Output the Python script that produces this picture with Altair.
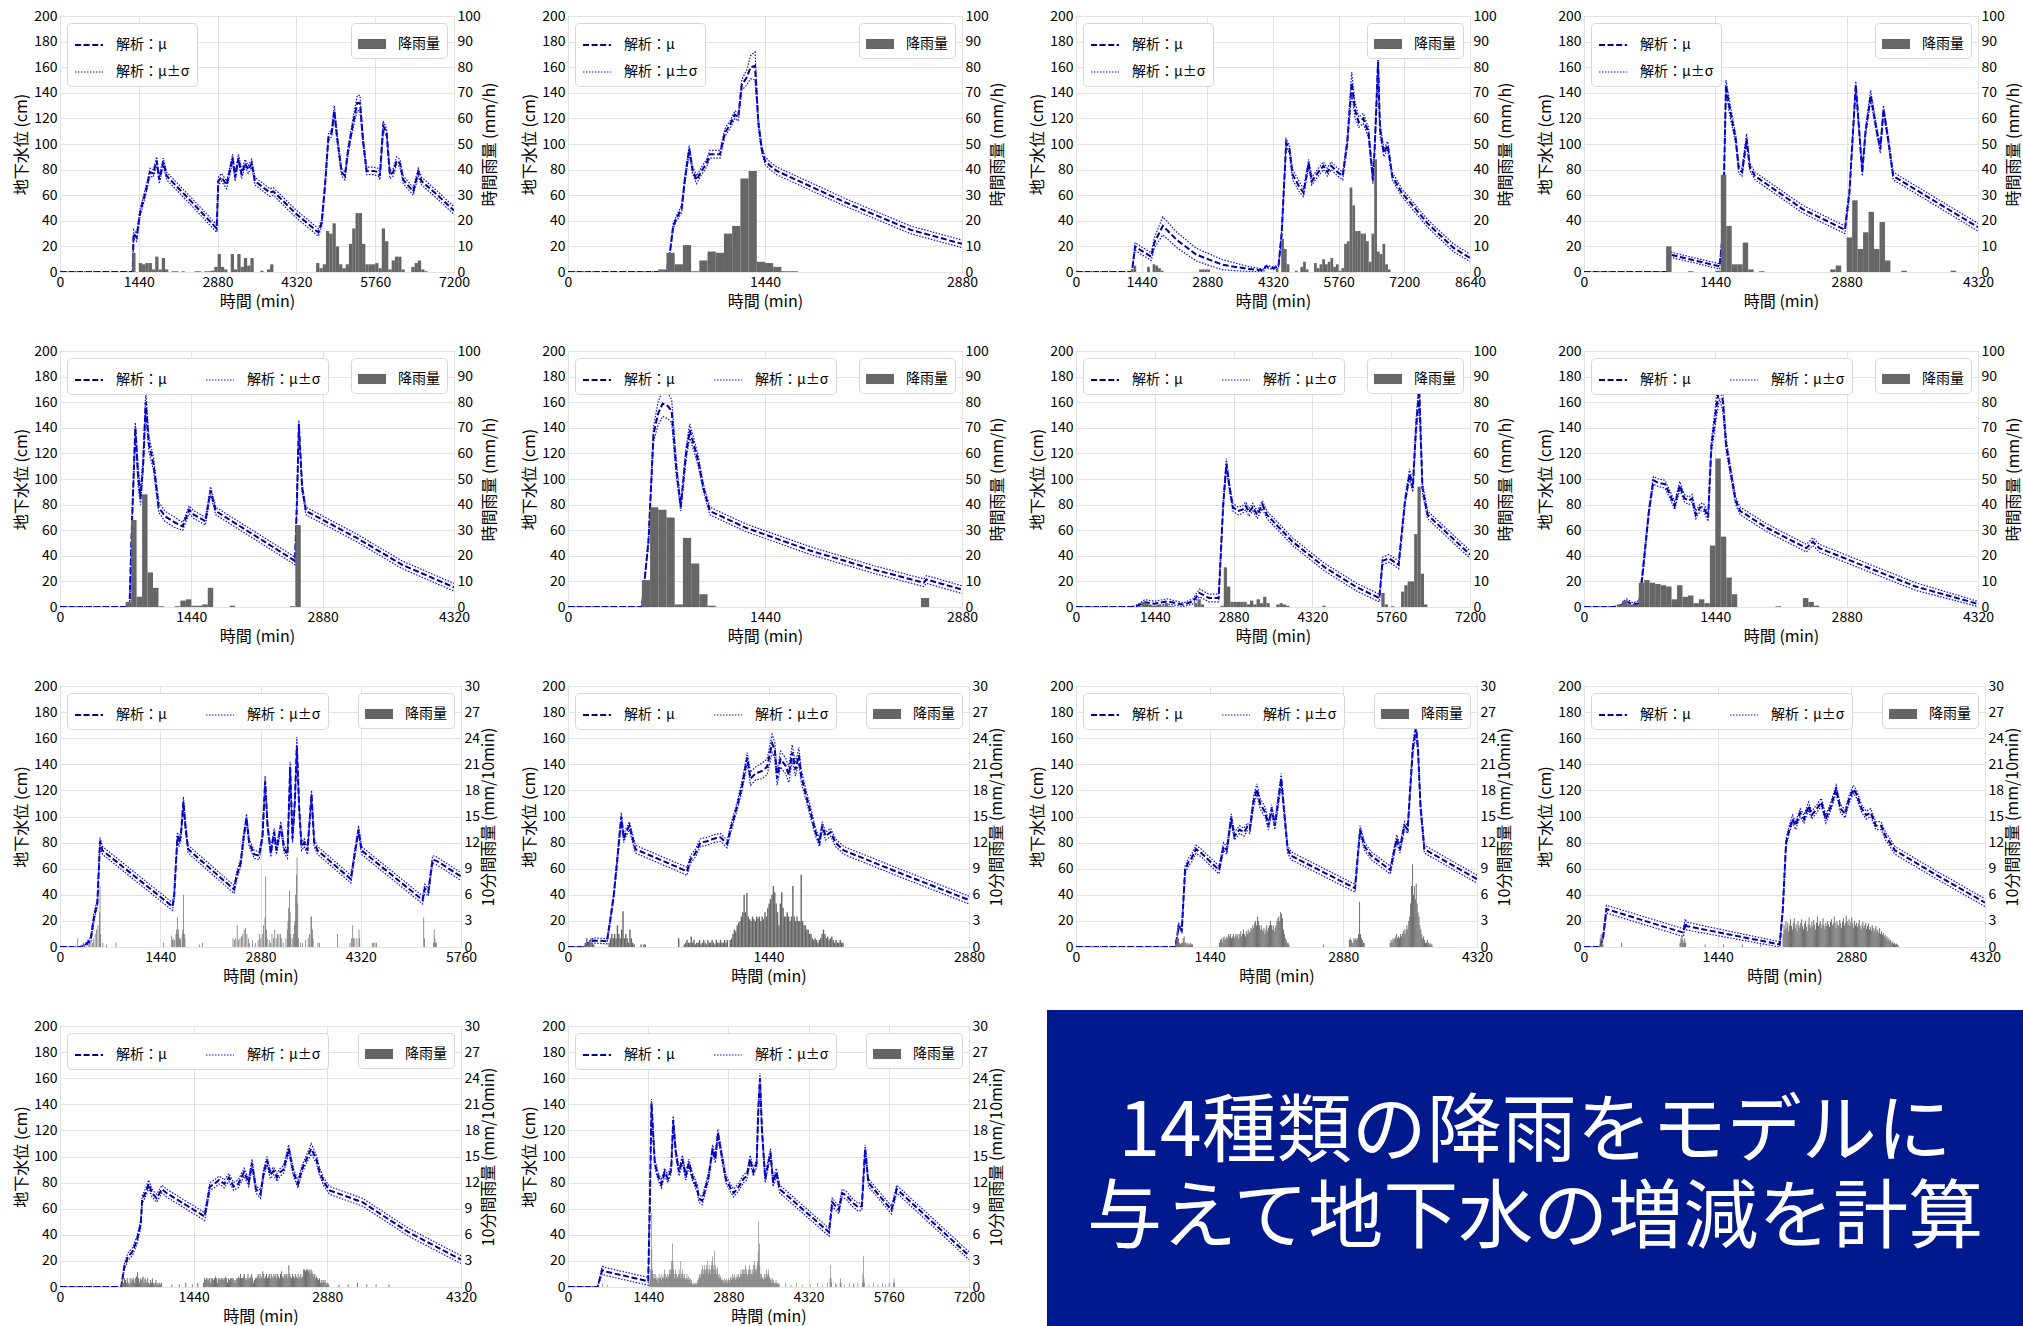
import altair as alt
import pandas as pd

FONT = "Noto Sans CJK JP"
MU_LABEL = "解析：μ"
SD_LABEL = "解析：μ±σ"
RAIN_LABEL = "降雨量"
MU_COLOR = "#00008b"
SD_COLOR = "#0a0aff"
BAR_COLOR = "#666666"
BOX_COLOR = "#001a8e"

X_TITLE = "時間 (min)"
Y_TITLE = "地下水位 (cm)"
HOURLY_TITLE = "時間雨量 (mm/h)"
TENMIN_TITLE = "10分間雨量 (mm/10min)"

BOX_LINES = ["14種類の降雨をモデルに", "与えて地下水の増減を計算"]

# ---- groundwater level: (time [min], mean μ [cm], σ [cm]) ----
P1_LEVEL = [(0, 0, 0), (1328, 0, 0), (1345, 30, 3), (1400, 27, 3), (1462, 46, 3), (1583, 66, 3), (1644, 78, 3),
            (1705, 77, 3), (1766, 87, 3), (1815, 72, 3), (1888, 86, 3), (1950, 75, 3), (2400, 55, 3), (2863, 34, 3),
            (2893, 71, 3), (2953, 74, 3), (3045, 68, 3), (3155, 89, 3), (3200, 74, 3), (3262, 89, 3), (3320, 76, 3),
            (3380, 85, 3), (3440, 80, 3), (3502, 85, 3), (3563, 71, 3), (3837, 62, 3), (3898, 63, 3), (4300, 46, 3),
            (4720, 31, 3), (4781, 38, 3), (4842, 67, 3), (4905, 105, 3), (4966, 109, 3), (5012, 126, 4),
            (5067, 104, 3), (5146, 78, 3), (5207, 75, 3), (5268, 96, 3), (5359, 117, 4), (5432, 132, 6),
            (5481, 132, 6), (5542, 101, 3), (5603, 79, 3), (5725, 79, 3), (5816, 78, 3), (5846, 75, 3),
            (5907, 114, 4), (5968, 109, 3), (6029, 76, 3), (6090, 78, 3), (6151, 87, 3), (6212, 85, 3),
            (6273, 72, 3), (6455, 63, 3), (6547, 78, 3), (6608, 71, 3), (6900, 60, 3), (7200, 48, 3)]
P2_LEVEL = [(0, 0, 0), (720, 0, 0), (745, 15, 1), (769, 36, 2), (793, 42, 2), (830, 49, 3), (854, 72, 3),
            (886, 96, 3), (910, 80, 3), (940, 72, 3), (976, 79, 3), (1013, 85, 3), (1037, 92, 3), (1111, 92, 3),
            (1147, 109, 3), (1184, 115, 3), (1220, 123, 3), (1245, 121, 3), (1270, 146, 4), (1306, 152, 6),
            (1335, 160, 9), (1367, 161, 11), (1391, 117, 4), (1416, 96, 3), (1440, 87, 3), (1477, 83, 3),
            (1525, 79, 3), (1770, 67, 3), (2014, 55, 3), (2258, 44, 3), (2502, 33, 3), (2880, 22, 3)]
P3_LEVEL = [(0, 0, 0), (1226, 0, 0), (1296, 20, 3), (1400, 17.5, 3), (1649, 12, 3), (1720, 23, 4), (1903, 36, 7),
            (2213, 25, 6), (2636, 13.6, 5), (3200, 5.8, 4), (3763, 2.4, 2), (4115, 1.3, 1), (4158, 4.4, 1),
            (4327, 3, 1), (4440, 4.4, 1), (4510, 30, 3), (4609, 101, 3), (4680, 96, 3), (4750, 76, 4),
            (4890, 67, 4), (4989, 62, 3), (5102, 85, 3), (5172, 71, 3), (5313, 78, 3), (5426, 83, 3),
            (5511, 78, 3), (5595, 83, 3), (5736, 78, 3), (5849, 75, 3), (5948, 101, 3), (6046, 148, 8),
            (6116, 127, 6), (6201, 117, 4), (6300, 120, 4), (6413, 109, 4), (6511, 72, 3), (6553, 99, 3),
            (6624, 164, 8), (6666, 112, 5), (6751, 93, 3), (6835, 99, 3), (6934, 75, 3), (7145, 62, 3),
            (7710, 38, 3), (8273, 19, 3), (8640, 11, 3)]
P4_LEVEL = [(0, 0, 0), (923, 0, 0), (944, 13.6, 2), (1487, 4.4, 2), (1522, 30, 3), (1557, 146, 4), (1592, 130, 5),
            (1663, 104, 4), (1698, 80, 3), (1733, 78, 3), (1783, 104, 4), (1818, 82, 3), (1875, 75, 3),
            (2400, 49, 3), (2861, 33, 3), (2910, 62, 3), (2980, 146, 3), (3051, 78, 3), (3086, 109, 3),
            (3143, 138, 4), (3213, 109, 3), (3249, 96, 3), (3284, 127, 3), (3334, 104, 3), (3390, 75, 3),
            (3900, 53, 3), (4320, 35, 3)]
P5_LEVEL = [(0, 0, 0), (762, 0, 0), (790, 67, 3), (826, 140, 4), (855, 104, 8), (883, 85, 5), (912, 112, 6),
            (940, 160, 9), (975, 127, 6), (1025, 112, 5), (1082, 78, 4), (1150, 71, 4), (1260, 66, 4),
            (1345, 63, 3), (1416, 76, 3), (1470, 72, 3), (1594, 67, 3), (1651, 91, 3), (1708, 75, 3),
            (2577, 36, 3), (2598, 83, 3), (2619, 143, 3), (2655, 93, 3), (2697, 75, 3), (3253, 54, 3),
            (3751, 33, 3), (4320, 15.4, 3)]
P6_LEVEL = [(0, 0, 0), (540, 0, 0), (588, 51, 3), (625, 135, 6), (658, 151, 9), (692, 159, 10), (730, 157, 10),
            (758, 153, 9), (791, 109, 6), (824, 78, 3), (862, 119, 5), (890, 138, 5), (919, 127, 5),
            (952, 114, 4), (990, 93, 3), (1037, 75, 3), (1298, 62, 3), (1772, 44, 3), (2245, 29, 3),
            (2600, 19, 3), (2620, 21.5, 3), (2880, 13.6, 3)]
P7_LEVEL = [(0, 0, 0), (1022, 0, 0), (1140, 1.3, 1), (1257, 3.7, 2), (1433, 2.5, 2), (1668, 4.4, 2),
            (1962, 1.8, 1.5), (2138, 4.4, 2), (2255, 11, 3), (2431, 7, 3), (2607, 7, 3), (2690, 80, 3),
            (2748, 112, 4), (2807, 93, 3), (2866, 78, 3), (2960, 75, 3), (3042, 76, 3), (3101, 79, 3),
            (3160, 74, 3), (3230, 78, 3), (3312, 72, 3), (3406, 80, 3), (3488, 72, 3), (3958, 51, 3),
            (4545, 31, 3), (5133, 15.4, 3), (5544, 7, 3), (5602, 36, 3), (5720, 38, 3), (5896, 33, 3),
            (6013, 83, 3), (6096, 104, 4), (6155, 93, 3), (6213, 140, 6), (6272, 169, 10), (6331, 93, 4),
            (6425, 72, 3), (7200, 41, 3)]
P8_LEVEL = [(0, 0, 0), (324, 0, 0), (400, 1, 1), (465, 4.4, 2), (535, 1.8, 1.5), (606, 3, 2), (641, 25, 3),
            (712, 75, 3), (761, 99, 3), (818, 97, 3), (888, 96, 3), (959, 85, 3), (994, 79, 3), (1050, 95, 3),
            (1100, 85, 3), (1150, 83, 3), (1185, 85, 3), (1226, 72, 3), (1276, 78, 3), (1310, 78, 3),
            (1361, 70, 3), (1396, 125, 5), (1452, 156, 8), (1487, 173, 10), (1522, 161, 8), (1558, 127, 5),
            (1607, 106, 4), (1663, 83, 3), (1713, 75, 3), (2000, 62, 3), (2438, 46, 3), (2509, 51, 3),
            (2580, 46, 3), (2931, 36, 3), (3636, 16, 3), (4320, 2.4, 2)]
P9_LEVEL = [(0, 0, 0), (297, 0, 0), (370, 2, 1), (441, 5.6, 2), (489, 23, 3), (537, 34, 3), (575, 81, 3),
            (610, 74, 3), (1615, 31, 3), (1640, 39, 3), (1687, 85, 3), (1710, 80, 3), (1735, 85, 3),
            (1773, 111, 4), (1806, 90, 3), (1840, 75, 3), (2501, 44, 3), (2535, 54, 3), (2597, 65, 3),
            (2635, 83, 3), (2679, 99, 3), (2717, 80, 3), (2789, 71, 3), (2861, 70, 3), (2909, 85, 3),
            (2947, 127, 4), (2981, 93, 3), (3028, 72, 3), (3076, 88, 3), (3110, 74, 3), (3172, 93, 3),
            (3220, 75, 3), (3268, 71, 3), (3306, 138, 4), (3340, 83, 3), (3373, 111, 3), (3402, 154, 7),
            (3436, 106, 3), (3469, 77, 3), (3507, 80, 3), (3555, 74, 3), (3613, 117, 3), (3651, 80, 3),
            (3699, 74, 3), (4178, 52, 3), (4235, 72, 3), (4288, 90, 3), (4331, 74, 3), (5208, 36, 3),
            (5240, 45, 3), (5290, 42, 3), (5352, 67, 3), (5410, 66, 3), (5760, 54, 3)]
P10_LEVEL = [(0, 0, 0), (113, 0, 0), (148, 3, 1), (184, 5, 2), (280, 4.4, 2), (304, 21, 2), (328, 39, 2),
             (352, 65, 3), (383, 100, 3), (400, 83, 3), (417, 88, 3), (441, 93, 3), (460, 85, 3), (484, 75, 3),
             (855, 58, 3), (879, 67, 3), (915, 72, 3), (951, 80, 3), (999, 81, 3), (1047, 83, 3),
             (1095, 84, 3), (1143, 79, 3), (1167, 90, 3), (1215, 108, 3), (1251, 124, 4), (1287, 145, 4),
             (1311, 129, 5), (1347, 133, 5), (1394, 135, 6), (1430, 138, 6), (1466, 156, 7), (1485, 151, 6),
             (1502, 129, 5), (1526, 144, 6), (1562, 139, 6), (1586, 132, 6), (1610, 149, 6), (1634, 136, 5),
             (1658, 147, 6), (1675, 131, 5), (1706, 118, 4), (1742, 103, 4), (1778, 88, 3), (1806, 80, 3),
             (1826, 93, 3), (1850, 85, 3), (1886, 88, 3), (1921, 80, 3), (1981, 74, 3), (2400, 56, 3),
             (2880, 36, 3)]
P11_LEVEL = [(0, 0, 0), (1071, 0, 0), (1106, 16, 2), (1140, 13, 2), (1175, 59, 3), (1210, 65, 3),
             (1245, 68, 3), (1292, 75, 3), (1350, 72, 3), (1541, 59, 3), (1589, 77, 3), (1624, 74, 3),
             (1672, 99, 3), (1706, 85, 3), (1762, 90, 3), (1810, 88, 3), (1845, 92, 3), (1872, 90, 3),
             (1914, 112, 4), (1949, 121, 4), (1983, 110, 4), (2039, 103, 4), (2073, 93, 3), (2108, 106, 3),
             (2142, 93, 3), (2177, 111, 4), (2211, 129, 4), (2246, 101, 3), (2280, 75, 3), (2315, 70, 3),
             (3006, 45, 3), (3061, 90, 3), (3110, 77, 3), (3179, 70, 3), (3386, 59, 3), (3455, 83, 3),
             (3490, 75, 3), (3538, 93, 3), (3573, 90, 3), (3628, 152, 4), (3663, 168, 5), (3684, 152, 4),
             (3711, 108, 4), (3753, 75, 3), (4320, 52, 3)]
P12_LEVEL = [(0, 0, 0), (173, 0, 0), (207, 8, 2), (242, 29, 3), (1071, 11, 3), (1090, 18.5, 3), (1106, 16, 3),
             (2108, 2, 2), (2142, 29, 3), (2177, 80, 3), (2211, 90, 3), (2246, 98, 3), (2280, 93, 3),
             (2329, 103, 3), (2370, 98, 3), (2419, 108, 3), (2453, 101, 3), (2508, 106, 3), (2557, 111, 3),
             (2605, 98, 3), (2660, 108, 3), (2716, 121, 3), (2764, 106, 3), (2813, 102, 3), (2854, 113, 3),
             (2903, 121, 3), (2937, 117, 3), (2992, 106, 3), (3040, 101, 3), (3089, 103, 3), (3144, 93, 3),
             (3200, 93, 3), (3248, 85, 3), (3296, 80, 3), (3351, 74, 3), (3800, 55, 3), (4320, 34, 3)]
P13_LEVEL = [(0, 0, 0), (659, 0, 0), (694, 16, 2), (730, 23, 3), (779, 27, 3), (830, 36, 3), (871, 49, 3),
             (885, 67, 3), (920, 72, 3), (956, 79, 3), (991, 72, 3), (1041, 68, 3), (1098, 75, 3),
             (1148, 72, 3), (1558, 54, 3), (1615, 77, 3), (1664, 79, 3), (1714, 82, 3), (1770, 79, 3),
             (1820, 84, 3), (1870, 77, 3), (1920, 79, 3), (1983, 88, 3), (2033, 80, 3), (2068, 95, 3),
             (2111, 75, 3), (2160, 71, 3), (2196, 88, 3), (2231, 97, 3), (2266, 86, 3), (2302, 89, 3),
             (2337, 84, 3), (2373, 88, 3), (2408, 90, 3), (2464, 106, 3), (2514, 88, 3), (2564, 79, 3),
             (2606, 90, 3), (2656, 98, 3), (2706, 106, 4), (2762, 98, 3), (2797, 88, 3), (2847, 80, 3),
             (2904, 74, 3), (3258, 65, 3), (3754, 42, 3), (4320, 21, 3)]
P14_LEVEL = [(0, 0, 0), (531, 0, 0), (614, 13, 3), (660, 12, 3), (1440, 4.4, 3), (1470, 65, 3), (1499, 141, 3),
             (1558, 95, 3), (1617, 85, 3), (1676, 79, 3), (1735, 88, 3), (1794, 83, 3), (1853, 90, 3),
             (1889, 128, 3), (1936, 103, 3), (1995, 88, 3), (2054, 98, 3), (2113, 85, 3), (2172, 95, 3),
             (2231, 85, 3), (2325, 75, 3), (2349, 68, 3), (2408, 66, 3), (2526, 85, 3), (2597, 106, 3),
             (2644, 98, 3), (2692, 118, 3), (2751, 103, 3), (2833, 83, 3), (2916, 76, 3), (2975, 72, 3),
             (3069, 77, 3), (3152, 83, 3), (3211, 85, 3), (3270, 98, 3), (3329, 88, 3), (3388, 95, 3),
             (3417, 136, 4), (3447, 160, 4), (3482, 121, 4), (3541, 83, 3), (3588, 93, 3), (3636, 103, 3),
             (3683, 80, 3), (3742, 88, 3), (3801, 75, 3), (4686, 42, 3), (4745, 65, 3), (4863, 59, 3),
             (4922, 72, 3), (5004, 70, 3), (5099, 65, 3), (5217, 61, 3), (5276, 62, 3), (5335, 106, 3),
             (5394, 80, 3), (5807, 59, 3), (5902, 75, 3), (7200, 24, 3)]

# ---- hourly rainfall [mm/h]: first hour index, then one value per hour ----
P1_RAIN_H0 = 22
P1_RAIN = [7.5, 0, 3.5, 3, 3.5, 3.5, 1, 6, 1, 5.5, 1, 0, 0.3, 0.3, 0, 0.3, 0, 0, 0, 0.3, 0.3, 0, 0.3, 0.3,
           0.5, 2, 7, 2, 1, 0, 7, 1, 7, 2, 5.5, 2.5, 5.5, 0, 0, 0.5, 0, 1, 3, 0, 0, 0, 0, 0, 0, 0, 0, 0, 0, 0,
           0, 0, 3.5, 1.5, 3, 16, 15, 19, 10, 3, 1.5, 3, 11, 17, 23, 23, 11, 3, 3, 3, 3.5, 1.5, 17, 12, 1, 4.5,
           6, 6, 1, 0, 0, 2, 3.5, 4.5, 1, 0.3]
P2_RAIN_H0 = 11
P2_RAIN = [1, 7.5, 3, 10.5, 0.3, 4.5, 8, 7.5, 15, 18, 36.5, 39.5, 4, 3.5, 2, 0.3, 0.3]
P3_RAIN_H0 = 20
P3_RAIN = [1, 2.5, 0, 0, 0, 0, 2, 0, 3, 2.5, 1.5, 0.5, 0, 0, 0, 0, 0, 0, 0, 0, 0, 0, 0, 0, 0, 1, 1, 1, 1,
           0, 0, 0, 0, 0, 0, 0, 0, 0, 0, 0, 0, 0, 0, 0, 0, 0, 0, 0, 0, 0, 0, 0, 0, 1.5, 0, 13, 9, 3, 0, 0,
           0.5, 0, 2, 4, 1, 0, 0, 3.5, 1.5, 3, 5, 3, 4, 5.5, 2, 3, 0.5, 1.5, 11, 12, 33, 26, 16, 16, 15, 15,
           12, 4, 15, 44, 8, 7, 11, 3, 1]
P4_RAIN_H0 = 15
P4_RAIN = [10, 0, 0, 0, 0.3, 0, 0, 0, 0, 0.5, 38, 18, 3, 3, 11.5, 1, 0, 0.3, 0, 0, 0, 0, 0, 0, 0, 0, 0, 0,
           0, 0, 1, 2.5, 0, 13.5, 28, 9, 15.5, 23.5, 9, 19.5, 4.5, 0, 0, 0.5, 0, 0, 0, 0, 0, 0, 0, 0, 0.5]
P5_RAIN_H0 = 12
P5_RAIN = [2, 34, 4, 44, 13.5, 7.5, 0.3, 0, 0, 0.3, 2.5, 3, 0.5, 0.5, 1, 7.5, 0, 0, 0, 0.5, 0, 0, 0, 0, 0, 0,
           0, 0, 0, 0, 0.3, 32]
P6_RAIN_H0 = 9
P6_RAIN = [10.5, 39, 38, 35, 1, 27, 17, 5, 0.5, 0, 0, 0, 0, 0, 0, 0, 0, 0, 0, 0, 0, 0, 0, 0, 0, 0, 0, 0, 0,
           0, 0, 0, 0, 0, 3.5]
P7_RAIN_H0 = 19
P7_RAIN = [0.3, 2, 1.5, 1, 0.5, 0.5, 1, 0.5, 1.5, 0.5, 0.3, 0, 0, 0, 0, 0, 0, 1.5, 3, 1, 0, 0, 0, 0, 0,
           0.5, 15.5, 8, 2, 2, 2, 2, 2, 1, 2.5, 1, 3, 1.5, 4, 1.5, 0, 0, 1, 1.5, 1, 0.5, 0, 0, 0, 0, 0, 0, 0,
           0, 0, 0, 0.5, 0, 0, 0, 0, 0, 0, 0, 0, 0, 0, 0, 0, 0, 0, 0, 0, 0, 5.5, 1, 0, 0.3, 0, 0, 6, 8.5, 10,
           10, 28.5, 47, 13, 1]
P8_RAIN_H0 = 6
P8_RAIN = [1, 2.5, 1, 1, 9.5, 10.5, 9.5, 9, 8.5, 8, 3, 8.5, 4, 4.5, 1.5, 3, 1.5, 24, 58, 27.5, 11.5, 5, 0,
           0, 0, 0, 0, 0, 0, 0.3, 0, 0, 0, 0, 3.5, 2, 0.5]

# ---- 10-minute rainfall [mm/10min]: (start time [min], one value per 10 min) ----
P9_RAIN = [(250, [1, 0, 0, 0, 0, 0.3, 0, 0, 0.5]),
           (400, [0.5, 0, 0.5, 0, 0.8, 0, 0.5, 0, 1, 0, 1.5, 0, 2, 0, 2.5, 0, 4, 7, 1.5, 0, 0, 0.5]),
           (660, [0.3]), (800, [0.5]), (1480, [0.5]),
           (1600, [1.3, 0.8, 1, 0, 0.8, 0, 1.5, 2, 3.4, 1.5, 2, 1, 0.8, 1, 0, 1.5, 2, 6, 1.5, 1]),
           (2000, [0.3]), (2040, [0.5]),
           (2480, [1, 0, 0.8, 0, 1, 0, 2.5, 0, 0.8, 0, 1, 0, 1.2, 0, 1.5, 0, 2, 0, 2.2, 0, 1.5, 0, 1, 0, 0.5]),
           (2760, [0.8, 0, 0, 0, 0.5, 0, 0, 0, 0.8, 0, 1.5, 0, 1, 0, 1.5, 0, 2.5, 0, 3.4, 8.1, 2, 1, 0, 0, 0.8,
                   0, 0.5, 0, 1.5, 0, 1, 0, 2, 0, 1, 0, 1.5, 0, 1.5, 0, 1.5, 0, 1, 0, 0.5]),
           (3240, [1, 0, 2, 3, 4.5, 6.5, 4, 1.5, 0, 1, 0, 1.5, 2.5, 3, 6, 8.3, 10.3, 5, 1, 0, 0, 0.5, 0, 0,
                   0.5, 0, 0, 0, 0.8, 0, 0, 0, 1, 0, 1.5, 0, 3.5, 3.5, 2, 1]),
           (3700, [0.5, 0, 0.5]), (3980, [1.5]),
           (4160, [0.5, 0, 1, 0, 2.5, 1, 0, 1, 0, 0, 1, 0, 0, 2, 1]),
           (4480, [0.5, 0, 0.5, 0, 0.5, 0, 0.5]),
           (5220, [3.4, 1]), (5360, [0.5, 2, 1, 0.5, 0.5])]
P10_RAIN = [(120, [0.5, 1, 0.5, 0.8, 1, 0.5, 0.3]),
            (290, [0.5, 1, 1.5, 1, 1.5, 1, 2.5, 1.5, 1, 2, 4.1, 1, 1.5, 1, 0.5, 2, 1, 0.5, 0.3]),
            (520, [0.3, 0, 0.3, 0.3]), (790, [1]),
            (830, [0.3, 0.5, 0.8, 0.5, 0.5, 1.2, 0.5, 0.8, 0.3, 0.5, 0.5, 0.8, 0.3, 0.5, 0.8, 0.5, 0.3, 0.8,
                   0.5, 0.5, 0.8, 0.5, 0.3, 0.8, 0.5, 0.5, 0.8, 0.5, 0.5, 0.8, 0.5, 0.8]),
            (1160, [0.8, 1, 1.5, 2, 1.8, 2.5, 2.8, 3, 3.5, 4, 6, 4, 6.2, 3.5, 3.2, 3, 3.5, 3.2, 3, 3.5, 3.3,
                    3.5, 3, 3.5, 3.2, 4, 3.5, 4.5, 5, 5.5, 6, 7, 6.3, 5, 4, 2.5, 5, 6.3, 4.5, 3.5, 3.5, 4, 3.5,
                    3, 3.5, 7, 3.5, 3, 3.5, 3, 3, 8.3, 3, 2.5, 2.5, 2, 2, 1.5, 1.5, 1, 0.8, 1, 0.8, 0.5, 0.8,
                    1, 1.5, 2, 1.5, 1, 1.2, 0.8, 1, 1.2, 0.8, 0.5, 0.8, 0.5, 0.5, 0.8, 0.5, 0.5])]
P11_RAIN = [(1070, [0.5, 1, 2.5, 1, 0.5, 0.3, 0.5, 0.5, 1, 1.2, 0.5, 0.5, 0.3, 0.5, 0.3, 0.3, 0.5, 0.3, 0.3]),
            (1540, [0.5, 0.8, 1, 0.5, 1, 1.2, 0.8, 1, 1.2, 1, 1.5, 1.2, 1.5, 1, 1.2, 1.5, 1, 1.3, 1.5, 1.2,
                    1.5, 1, 1.5, 1.8, 1.2, 1.5, 2, 1.5, 1.2, 1.8, 1.5, 2, 1.6, 1.8, 2.2, 2, 2.5, 2.2, 2.8, 3,
                    2.5, 3.5, 3, 2.5, 2, 2.5, 2, 1.8, 2.2, 1.5, 2, 2.5, 1.8, 2.2, 2.5, 3, 2.5, 2, 2.5, 1.8,
                    2.2, 2.5, 3, 3.3, 3.5, 3, 4, 3.8, 3.3, 2, 1.5, 1, 0.8, 0.5, 0.5, 0.3]),
            (2660, [0.3]),
            (2940, [0.8, 1, 0.8, 0.5, 0.5, 1, 0.8, 1, 0.8, 1, 1.5, 5.2, 1.5, 1, 0.8, 0.5, 0.5]),
            (3380, [0.5, 0.8, 0.5, 1, 0.8, 1, 1.2, 1.5, 1, 1.2, 1, 1.5, 1.2, 1.5, 1.8, 2, 1.5, 2, 2.5, 2, 3,
                    3.5, 5, 7, 9.5, 6, 7, 5.5, 7.3, 5, 4, 3.5, 2.5, 2, 1.5, 1, 1.2, 0.8, 0.5, 0.5, 0.8, 0.5,
                    0.3, 0.5, 0.3, 0.3])]
P12_RAIN = [(170, [1, 1.5, 0.5, 0.3]), (400, [0.5]),
            (1030, [0.5, 1, 1.3, 0.8, 0.5, 1, 0.5]),
            (1300, [0.3]), (1500, [0.3]), (1700, [0.3]), (1900, [0.3]),
            (2140, [1.5, 2.5, 2, 3, 2.2, 2.8, 1.8, 2.5, 3.2, 2.4, 2, 2.8, 3.3, 2.2, 2.6, 1.8, 3, 2.5, 2.2, 2.8,
                    3.2, 2.4, 2, 2.7, 3, 2.3, 1.8, 2.6, 3.4, 2.5, 2.2, 2.9, 2.4, 3.1, 2.6, 2, 2.8, 3.5, 2.4,
                    2.7, 3, 2.2, 2.6, 3.3, 2.5, 2.1, 2.8, 2.4, 3, 2.6, 2.3, 2.9, 3.2, 2.5, 2.7, 3.5, 2.8, 2.2,
                    3, 2.6, 2.4, 3.1, 2.7, 2.2, 2.9, 3.3, 2.5, 2.8, 3.6, 3, 2.6, 3.2, 2.4, 2.9, 3.4, 2.7, 2.2,
                    3, 2.5, 2.8, 2.3, 2.7, 3.1, 2.4, 2, 2.6, 2.9, 2.2, 2.5, 2.8, 2.1, 2.4, 2.7, 2, 2.3, 1.9,
                    2.5, 2.2, 1.8, 2.1, 2.4, 1.8, 2, 1.6, 2.2, 1.5, 1.8, 1.4, 1.6, 1.2, 1.4, 1, 1.2, 0.8, 1,
                    0.7, 0.8, 0.5, 0.6, 0.4, 0.5, 0.3, 0.4, 0.3, 0.2])]
P13_RAIN = [(660, [0.5, 1, 0.5, 1, 0.8, 0.5, 1, 0.5, 0.3, 1, 0.5, 1, 0.8, 1, 0.5, 1, 1.2, 1.7, 1, 0.5, 1, 0.8,
                   1, 1.2, 0.5, 1, 0.8, 0.5, 1, 0.5, 0.3, 0.8, 0.5, 1, 0.5, 0.3, 0.5, 0.8, 0.3, 0.5, 0.3, 0.5,
                   0.3, 0.5]),
            (1200, [0.3]), (1280, [0.3]), (1350, [0.5]), (1420, [0.3]), (1480, [0.5]),
            (1540, [0.5, 1, 0.8, 1, 1, 0.8, 1, 1, 0.5, 1, 1, 0.8, 1, 1.2, 1, 0.5, 1, 1, 0.8, 1,
                    1, 1, 0.8, 1, 1.2, 1, 0.5, 1, 0.8, 1, 1, 1, 1, 0.8, 0.5, 0.8, 1, 1, 1.2, 1,
                    1.5, 1, 1, 1.2, 1.5, 1, 0.8, 1, 1.5, 1, 1, 1.2, 1.5, 1, 0.5, 0.8, 1, 1, 1.2, 1.5,
                    1, 1.5, 1.2, 1, 1.8, 1.5, 1, 1.2, 1.5, 1, 1.2, 1.5, 1, 1.5, 1.2, 1, 1.5, 1.2, 1.5, 1,
                    1.5, 1.2, 1, 1.5, 1.8, 1.2, 1, 1.5, 1.2, 1.5, 1.5, 1, 2.5, 1.5, 1.2, 1, 1.5, 1.2, 1, 1.5,
                    1.2, 1, 1.5, 1, 1.2, 1.5, 1, 1.2, 2, 2, 1.8, 2, 2, 1.8, 2, 1.5, 2, 1.8, 1.5, 1.2,
                    1.5, 1, 1.2, 1, 0.8, 1, 0.5, 0.8, 0.5, 0.8, 0.5, 0.8, 0.5, 0.3, 0.5, 0.3]),
            (3000, [0.3]), (3100, [0.3]), (3200, [0.5]), (3300, [0.3]), (3400, [0.3]), (3540, [0.3])]
P14_RAIN = [(620, [0.5]), (700, [0.3]),
            (1460, [0.5, 1, 2, 8.5, 4.3, 2, 1.5, 1, 1.5, 1, 1.5, 1, 0.8, 1.2, 1, 0.5, 1, 1.5, 1, 1.2,
                    1, 0.8, 1.5, 1, 1.2, 1, 1.5, 2, 1.5, 1, 1.2, 1, 1.5, 1, 1.2, 1.5, 2, 1.5, 2, 3,
                    2, 5, 3, 2, 1.5, 1, 1.5, 2, 1.5, 1, 1.2, 1, 1.5, 2, 1.5, 1, 3, 1.5, 1, 2,
                    1.5, 1, 1.2, 1.5, 1, 0.8, 1, 1.5, 1, 0.8, 1.2, 1, 0.8, 1, 0.5, 0.8, 0.5, 0.3, 0.5, 0.3,
                    0.3, 0.5, 0.3, 0.5, 0.3, 0.5, 0.8, 0.5, 1, 1.5, 1.2, 1, 1.5, 2, 1.5, 2.5, 2, 1.5, 2, 2.5,
                    2, 1.5, 2.5, 2, 3, 2, 1.5, 2.5, 2, 1.5, 2, 2.5, 3, 3.5, 2.5, 2, 1.5, 4.1, 2.5, 2,
                    1.5, 2, 2.3, 1.5, 1.2, 1, 1.5, 1.2, 1, 0.8, 1, 0.8, 0.5, 0.8, 1, 0.5, 0.8, 0.5, 1, 0.8,
                    0.5, 0.8, 1, 0.5, 0.8, 1, 1.2, 0.8, 1, 1.5, 1, 1.2, 1.5, 1, 0.8, 1.2, 1, 1.5, 1.2, 1,
                    1.5, 1.2, 1, 1.5, 2, 1.5, 1.2, 2, 1.5, 2, 1.5, 2, 2.5, 1.5, 2, 1.5, 1.2, 1.5, 2, 2.5,
                    2, 1.5, 2, 1.5, 1.2, 2, 1.5, 2.5, 3, 2.5, 2, 1.5, 2, 2.5, 3, 4, 7.5, 5, 2.5, 1.5,
                    1, 1.5, 1.2, 1, 0.8, 1, 1.5, 1.2, 1, 1.5, 2, 1.5, 1.2, 2, 1.5, 1.2, 1, 0.8, 1, 0.5,
                    0.8, 1, 0.5, 0.8, 0.5, 0.3, 0.5, 0.8, 0.5, 0.3, 0.5, 0.3, 0.5, 0.3]),
            (3900, [0.5]), (4000, [0.3]), (4100, [0.5]), (4200, [0.3]), (4350, [0.3]), (4480, [0.5]),
            (4560, [0.3]), (4650, [0.5]), (4700, [1, 2.5, 1, 0.5]), (4800, [0.5, 0.3]),
            (4880, [0.5, 1, 0.5]), (4960, [0.3]), (5050, [0.5]), (5120, [0.3, 0.5]), (5200, [0.5]),
            (5280, [0.5, 1.5, 3.6, 1, 0.5]), (5400, [0.3]), (5480, [0.5]), (5560, [0.3]), (5640, [0.5]),
            (5700, [0.3]), (5760, [0.5]), (5840, [0.5, 1, 0.5])]


def level_frame(level):
    rows = []
    for t, mu, sd in level:
        rows.append({"t": t, "v": mu, "series": MU_LABEL, "part": "mu"})
        rows.append({"t": t, "v": mu + sd, "series": SD_LABEL, "part": "upper"})
        rows.append({"t": t, "v": mu - sd, "series": SD_LABEL, "part": "lower"})
    return pd.DataFrame(rows)


def hourly_frame(h0, values):
    rows = [{"t0": (h0 + i) * 60, "t1": (h0 + i + 1) * 60, "r0": 0, "r": v, "kind": RAIN_LABEL}
            for i, v in enumerate(values) if v > 0]
    return pd.DataFrame(rows)


def tenmin_frame(segments):
    rows = []
    for start, values in segments:
        for i, v in enumerate(values):
            if v > 0:
                rows.append({"t0": start + 10 * i, "t1": start + 10 * (i + 1), "r0": 0, "r": v,
                             "kind": RAIN_LABEL})
    return pd.DataFrame(rows)


def panel(level, rain, xmax, hourly, direction, width, height):
    if hourly:
        rmax, rstep, rtitle = 100, 10, HOURLY_TITLE
    else:
        rmax, rstep, rtitle = 30, 3, TENMIN_TITLE

    x_scale = alt.Scale(domain=[0, xmax], nice=False, zero=True)
    x_axis = alt.Axis(values=list(range(0, xmax + 1, 1440)), title=X_TITLE, grid=True, format="d")

    line_legend = alt.Legend(
        orient="top-left", direction=direction, title=None, symbolType="stroke", symbolSize=784,
        labelFont=FONT, labelFontSize=14, labelColor="#000000", labelOffset=12,
        fillColor="#ffffff", strokeColor="#d6d6d6", cornerRadius=4, padding=7, offset=7,
        rowPadding=5, columnPadding=36,
    )
    bar_legend = alt.Legend(
        orient="top-right", title=None, symbolType="M-1,-0.36H1V0.36H-1Z", symbolSize=784,
        symbolStrokeWidth=0, labelFont=FONT, labelFontSize=14, labelColor="#000000", labelOffset=12,
        fillColor="#ffffff", strokeColor="#d6d6d6", cornerRadius=4, padding=7, offset=7,
    )

    series = [MU_LABEL, SD_LABEL]
    lines = alt.Chart(level_frame(level)).mark_line(clip=True).encode(
        x=alt.X("t:Q", scale=x_scale, axis=x_axis),
        y=alt.Y("v:Q", scale=alt.Scale(domain=[0, 200], nice=False),
                axis=alt.Axis(values=list(range(0, 201, 20)), title=Y_TITLE, grid=True, orient="left")),
        stroke=alt.Stroke("series:N", scale=alt.Scale(domain=series, range=[MU_COLOR, SD_COLOR]),
                          legend=line_legend),
        strokeDash=alt.StrokeDash("series:N", scale=alt.Scale(domain=series, range=[[6, 2.6], [1.5, 1.5]]),
                                  legend=line_legend),
        strokeWidth=alt.StrokeWidth("series:N", scale=alt.Scale(domain=series, range=[2, 1.2]),
                                    legend=line_legend),
        detail="part:N",
    )
    bars = alt.Chart(rain).mark_rect(clip=True).encode(
        x=alt.X("t0:Q", scale=x_scale, axis=x_axis),
        x2="t1:Q",
        y=alt.Y("r:Q", scale=alt.Scale(domain=[0, rmax], nice=False),
                axis=alt.Axis(values=list(range(0, rmax + 1, rstep)), title=rtitle, grid=False,
                              orient="right", titleAngle=270, titleBaseline="top", titlePadding=1)),
        y2="r0:Q",
        fill=alt.Fill("kind:N", scale=alt.Scale(domain=[RAIN_LABEL], range=[BAR_COLOR]), legend=bar_legend),
    )
    return alt.layer(lines, bars).resolve_scale(y="independent").properties(width=width, height=height)


W1, H1 = 394, 256   # hourly panels
W2, H2 = 401, 261   # 10-minute panels

panels = [
    panel(P1_LEVEL, hourly_frame(P1_RAIN_H0, P1_RAIN), 7200, True, "vertical", W1, H1),
    panel(P2_LEVEL, hourly_frame(P2_RAIN_H0, P2_RAIN), 2880, True, "vertical", W1, H1),
    panel(P3_LEVEL, hourly_frame(P3_RAIN_H0, P3_RAIN), 8640, True, "vertical", W1, H1),
    panel(P4_LEVEL, hourly_frame(P4_RAIN_H0, P4_RAIN), 4320, True, "vertical", W1, H1),
    panel(P5_LEVEL, hourly_frame(P5_RAIN_H0, P5_RAIN), 4320, True, "horizontal", W1, H1),
    panel(P6_LEVEL, hourly_frame(P6_RAIN_H0, P6_RAIN), 2880, True, "horizontal", W1, H1),
    panel(P7_LEVEL, hourly_frame(P7_RAIN_H0, P7_RAIN), 7200, True, "horizontal", W1, H1),
    panel(P8_LEVEL, hourly_frame(P8_RAIN_H0, P8_RAIN), 4320, True, "horizontal", W1, H1),
    panel(P9_LEVEL, tenmin_frame(P9_RAIN), 5760, False, "horizontal", W2, H2),
    panel(P10_LEVEL, tenmin_frame(P10_RAIN), 2880, False, "horizontal", W2, H2),
    panel(P11_LEVEL, tenmin_frame(P11_RAIN), 4320, False, "horizontal", W2, H2),
    panel(P12_LEVEL, tenmin_frame(P12_RAIN), 4320, False, "horizontal", W2, H2),
    panel(P13_LEVEL, tenmin_frame(P13_RAIN), 4320, False, "horizontal", W2, H2),
    panel(P14_LEVEL, tenmin_frame(P14_RAIN), 7200, False, "horizontal", W2, H2),
]

# caption box in the free space after the last two panels
box_df = pd.DataFrame({"line": BOX_LINES, "row": [0, 1]})
box_bg = alt.Chart(box_df).mark_rect(color=BOX_COLOR, clip=False).encode(
    x=alt.value(-29), x2=alt.value(947), y=alt.value(-16), y2=alt.value(300)
)
box_text = alt.Chart(box_df).mark_text(
    font=FONT, fontSize=75, color="#ffffff", align="center", baseline="middle"
).encode(
    x=alt.value(459),
    y=alt.Y("row:Q", scale=alt.Scale(domain=[0, 1], range=[107, 193]), axis=None),
    text="line:N",
)
box = alt.layer(box_bg, box_text).properties(width=W2, height=H2, view=alt.ViewBackground(stroke=None))

chart = alt.concat(
    *panels, box, columns=4, bounds="flush", spacing={"row": 79, "column": 107}
).resolve_scale(
    stroke="independent", strokeDash="independent", strokeWidth="independent", fill="independent"
).resolve_legend(
    stroke="independent", strokeDash="independent", strokeWidth="independent", fill="independent"
).properties(
    padding={"left": 13, "top": 8, "right": 0, "bottom": 0},
    background="#ffffff",
).configure_view(
    stroke="#8c8c8c", strokeWidth=1
).configure_axis(
    labelFont=FONT, titleFont=FONT, labelFontSize=14, titleFontSize=16, labelColor="#000000",
    titleColor="#000000", titleFontWeight="normal", domain=False, ticks=False, labelPadding=3,
    titlePadding=4, gridColor="#e3e3e3", gridWidth=1, labelFlush=False, labelOverlap=False,
)

chart.save("out.html", embed_options={"renderer": "svg", "actions": False})
